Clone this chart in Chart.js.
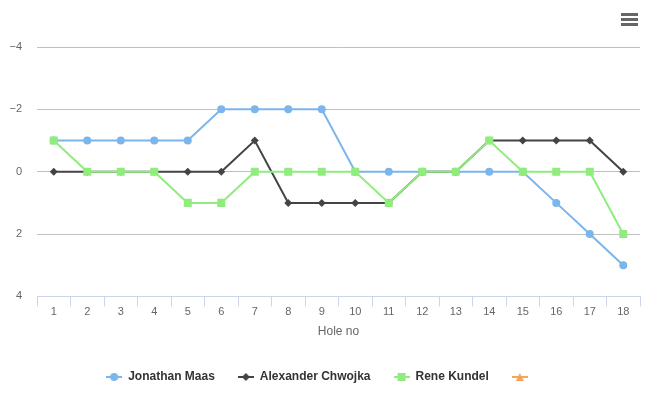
<!DOCTYPE html>
<html><head><meta charset="utf-8">
<script src="https://cdn.jsdelivr.net/npm/chart.js@4"></script>
<style>html,body{margin:0;padding:0;background:#fff}#wrap{width:650px;height:397px;position:relative}canvas{display:block}</style>
</head><body><div id="wrap"><canvas id="c" width="650" height="397"></canvas></div>
<script>
const holes = ['1','2','3','4','5','6','7','8','9','10','11','12','13','14','15','16','17','18'];
const jonathanMaas = [-1,-1,-1,-1,-1,-2,-2,-2,-2,0,0,0,0,0,0,1,2,3];
const alexanderChwojka = [0,0,0,0,0,0,-1,1,1,1,1,0,0,-1,-1,-1,-1,0];
const reneKundel = [-1,0,0,0,1,1,0,0,0,0,1,0,0,-1,0,0,0,2];
const unnamedSeries = [];
const yTickValues = [-4,-2,0,2,4];
const yTickLabels = ['−4','−2','0','2','4'];
const seriesNames = ['Jonathan Maas','Alexander Chwojka','Rene Kundel',''];
const xTitle = 'Hole no';

const colors = ['#7cb5ec','#434348','#90ed7d','#f7a35c'];
const markers = ['circle','diamond','square','triangle'];

function drawMarker(ctx, kind, x, y, color){
  ctx.fillStyle = color;
  ctx.beginPath();
  if(kind==='circle'){ctx.arc(x,y,4,0,Math.PI*2);}
  else if(kind==='diamond'){ctx.moveTo(x,y-4);ctx.lineTo(x+4,y);ctx.lineTo(x,y+4);ctx.lineTo(x-4,y);ctx.closePath();}
  else if(kind==='square'){ctx.rect(x-4,y-4,8,8);}
  else {ctx.moveTo(x,y-4);ctx.lineTo(x+4,y+4);ctx.lineTo(x-4,y+4);ctx.closePath();}
  ctx.fill();
}
function legendSymbol(i){
  const c = document.createElement('canvas');
  c.width = 16; c.height = 12;
  const g = c.getContext('2d');
  g.strokeStyle = colors[i]; g.lineWidth = 2;
  g.beginPath(); g.moveTo(0,6); g.lineTo(16,6); g.stroke();
  drawMarker(g, markers[i], 8, 6, colors[i]);
  return c;
}
const symbols = [0,1,2,3].map(legendSymbol);

const menuPlugin = {
  id:'menu',
  afterDraw(chart){
    const ctx = chart.ctx;
    ctx.save();
    ctx.fillStyle = '#666';
    [13,18,23].forEach(y=>{ctx.fillRect(621,y,17,3);});
    ctx.restore();
  }
};

const FONT = "'Liberation Sans', Arial, sans-serif";

new Chart(document.getElementById('c'), {
  type:'line',
  data:{
    labels: holes,
    datasets:[
      {label:seriesNames[0], data:jonathanMaas, borderColor:colors[0], backgroundColor:colors[0], pointStyle:'circle', pointRadius:4, pointBorderWidth:0, borderWidth:2, order:3},
      {label:seriesNames[1], data:alexanderChwojka, borderColor:colors[1], backgroundColor:colors[1], pointStyle:'rectRot', pointRadius:4, pointBorderWidth:0, borderWidth:2, order:2},
      {label:seriesNames[2], data:reneKundel, borderColor:colors[2], backgroundColor:colors[2], pointStyle:'rect', pointRadius:5.66, pointBorderWidth:0, borderWidth:2, order:1},
      {label:seriesNames[3], data:unnamedSeries, borderColor:colors[3], backgroundColor:colors[3], pointStyle:'triangle', pointRadius:4, pointBorderWidth:0, borderWidth:2, order:0}
    ]
  },
  options:{
    responsive:false, animation:false, devicePixelRatio:1,
    layout:{padding:{left:0,right:10,top:47,bottom:4}},
    plugins:{
      tooltip:{enabled:false},
      legend:{
        position:'bottom',
        labels:{
          usePointStyle:true, pointStyleWidth:16, padding:23,
          color:'#333', font:{family:FONT, size:12, weight:'bold'},
          generateLabels(chart){
            return chart.data.datasets.map((d,i)=>({
              text:d.label, pointStyle:symbols[i], datasetIndex:i,
              fillStyle:colors[i], strokeStyle:colors[i], lineWidth:0, hidden:false, fontColor:'#333'
            }));
          }
        }
      }
    },
    scales:{
      x:{
        offset:true,
        grid:{display:true, drawOnChartArea:false, drawTicks:true, tickLength:10, offset:true, color:'#ccd6eb'},
        border:{display:true, color:'#ccd6eb', width:1},
        ticks:{color:'#666', font:{family:FONT, size:11}, padding:-1, maxRotation:0, autoSkip:false},
        title:{display:true, text:xTitle, color:'#666', font:{family:FONT, size:12}, padding:{top:7,bottom:9}}
      },
      y:{
        reverse:true, min:-4, max:4,
        afterFit(scale){ scale.width = 37; },
        grid:{drawTicks:false, color:(c)=> c.tick && c.tick.value===4 ? 'rgba(0,0,0,0)' : '#c0c0c0'},
        border:{display:false},
        ticks:{stepSize:2, padding:15, color:'#666', font:{family:FONT, size:11}, callback:(v)=>yTickLabels[yTickValues.indexOf(v)]}
      }
    }
  },
  plugins:[menuPlugin]
});
</script></body></html>
